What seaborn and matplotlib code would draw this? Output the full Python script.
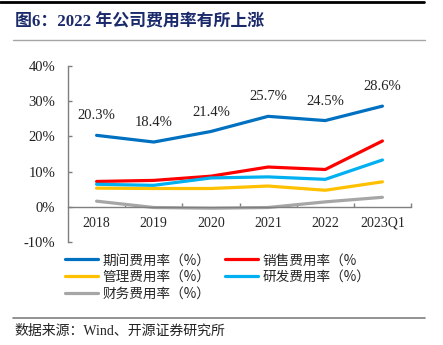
import matplotlib
matplotlib.use("Agg")
import matplotlib.pyplot as plt
from matplotlib.lines import Line2D
import seaborn as sns
import pandas as pd

# Expense ratios (%) by period
periods = ["2018", "2019", "2020", "2021", "2022", "2023Q1"]
period_rate = [20.3, 18.4, 21.4, 25.7, 24.5, 28.6]      # 期间费用率
sales_rate = [7.2, 7.5, 8.7, 11.3, 10.6, 18.7]         # 销售费用率
admin_rate = [5.3, 5.2, 5.2, 5.9, 4.7, 7.1]            # 管理费用率
rd_rate = [6.4, 6.1, 8.2, 8.5, 7.8, 13.3]              # 研发费用率
finance_rate = [1.6, -0.2, -0.4, -0.2, 1.4, 2.7]       # 财务费用率

series_names = ["期间费用率（%）", "销售费用率（%", "管理费用率（%）",
                "研发费用率（%）", "财务费用率（%）"]
series_values = [period_rate, sales_rate, admin_rate, rd_rate, finance_rate]
series_colors = ["#0070C0", "#FF0000", "#FFC000", "#00B0F0", "#A6A6A6"]

y_ticks = [-10, 0, 10, 20, 30, 40]
y_tick_labels = ["-10%", "0%", "10%", "20%", "30%", "40%"]

rows = []
for name, vals in zip(series_names, series_values):
    for i, v in enumerate(vals):
        rows.append({"pos": i, "series": name, "value": v})
df = pd.DataFrame(rows)

sns.set_style("white")
plt.rcParams["font.family"] = ["Liberation Serif", "Noto Sans CJK SC", "DejaVu Sans"]

W, H = 443, 345
fig = plt.figure(figsize=(W / 100, H / 100), dpi=100)
ax = fig.add_axes([68 / W, 1 - 242 / H, (411 - 68) / W, (242 - 66) / H])

sns.lineplot(data=df, x="pos", y="value", hue="series", hue_order=series_names,
             palette=series_colors, linewidth=2.3, sort=False, legend=False, ax=ax)

# Value labels above the total expense ratio line
for i, v in enumerate(period_rate):
    ax.annotate(f"{v:.1f}%", (i, v), xytext=(0, 14), textcoords="offset points",
                ha="center", va="center", fontsize=10.5, color="#222222",
                family=["Liberation Serif"])

ax.set_xlim(-0.5, len(periods) - 0.5)
ax.set_ylim(-10, 40)
ax.set_xlabel("")
ax.set_ylabel("")

ax.set_yticks(y_ticks)
ax.set_yticklabels(y_tick_labels, family=["Liberation Serif"], fontsize=10.5, color="#222222")
ax.set_xticks(range(len(periods)))
ax.set_xticklabels(periods, family=["Liberation Serif"], fontsize=10.5, color="#222222")
ax.set_xticks([i + 0.5 for i in range(len(periods))], minor=True)

for s in ["top", "right"]:
    ax.spines[s].set_visible(False)
ax.spines["bottom"].set_position(("data", 0))
ax.spines["bottom"].set_color("#7F7F7F")
ax.spines["left"].set_color("#7F7F7F")
ax.spines["bottom"].set_linewidth(1.0)
ax.spines["left"].set_linewidth(1.0)

ax.tick_params(axis="y", direction="in", length=3, width=1, color="#7F7F7F", pad=9, left=True)
ax.tick_params(axis="x", which="major", length=0, pad=7, bottom=True)
ax.tick_params(axis="x", which="minor", direction="in", length=3, width=1,
               color="#7F7F7F", bottom=True)

# Legend laid out row by row in two columns
handles = [Line2D([], [], color=c, lw=2.3) for c in series_colors]
order = [0, 2, 4, 1, 3]
fig.legend([handles[i] for i in order], [series_names[i] for i in order],
           ncol=2, loc="upper left", bbox_to_anchor=(53 / W, 1 - 241 / H),
           frameon=False, handlelength=2.4, handletextpad=0.35,
           columnspacing=1.05, labelspacing=0.2,
           prop={"family": ["Noto Sans CJK SC"], "size": 9.8})

# Header and footer decorations
fig.add_artist(Line2D([0, 424 / W], [1 - 1.5 / H] * 2, color="black", lw=2))
fig.text(15 / W, 1 - 22 / H, "图6：2022 年公司费用率有所上涨", ha="left", va="center",
         fontsize=12.2, fontweight="bold", color="#1B2A6B",
         family=["Liberation Serif", "Noto Sans CJK SC"])
fig.add_artist(Line2D([13 / W, 425 / W], [1 - 39.5 / H] * 2, color="#A6A6A6", lw=1))
fig.add_artist(Line2D([13 / W, 425 / W], [1 - 318 / H] * 2, color="#7F7F7F", lw=1.2))
fig.text(14 / W, 1 - 331 / H, "数据来源：Wind、开源证券研究所", ha="left", va="center",
         fontsize=10, color="#222222", family=["Liberation Serif", "Noto Sans CJK SC"])

fig.savefig("out.png", dpi=100)
